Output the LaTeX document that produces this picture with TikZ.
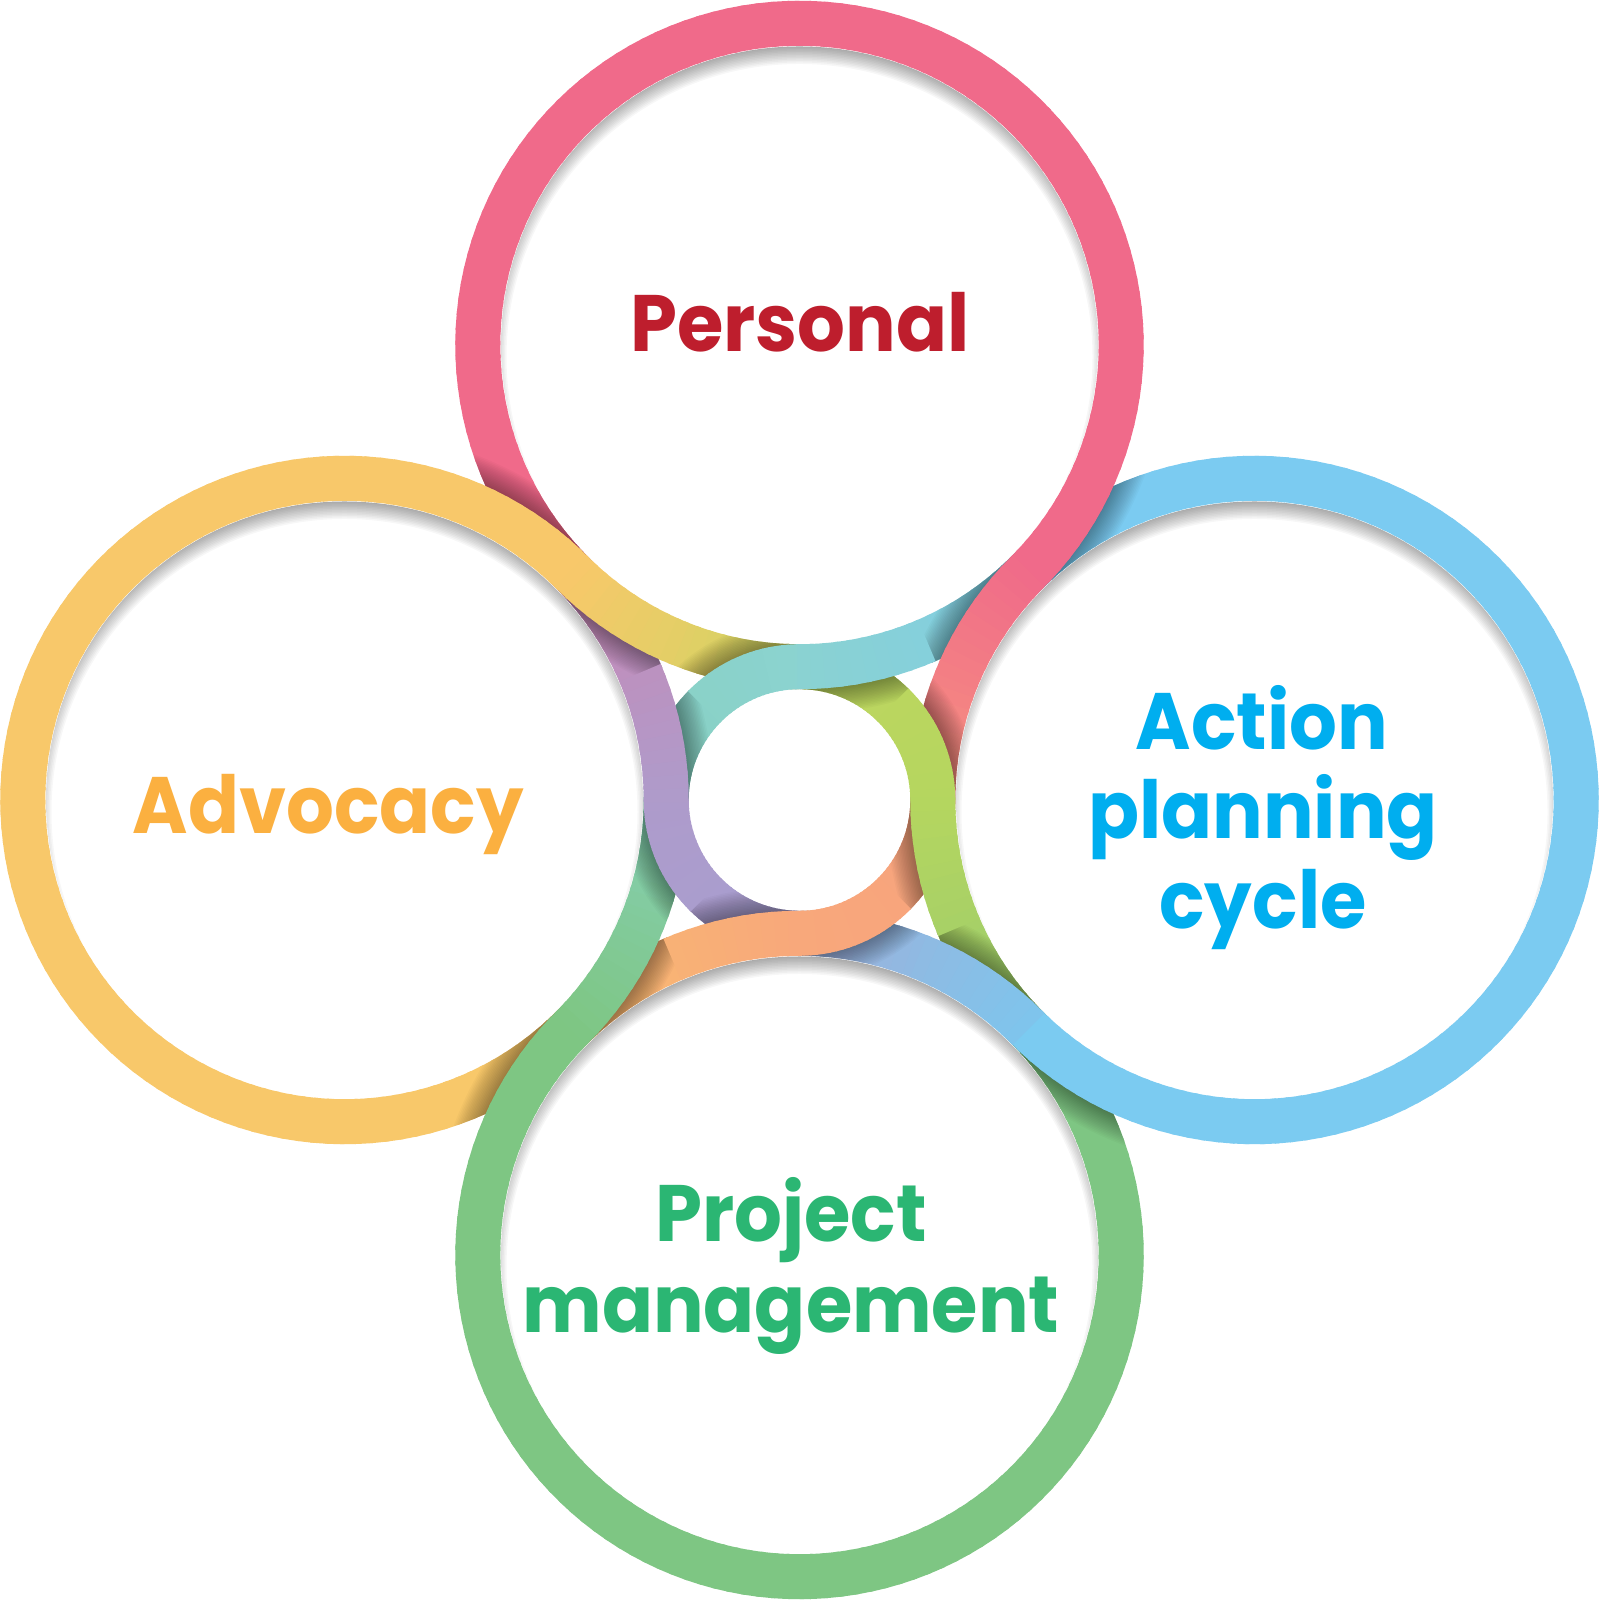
\documentclass[tikz,border=0pt]{standalone}
\usepackage{fontspec}
\newfontfamily\pop{Poppins}
\usetikzlibrary{calc}
% band colours
\definecolor{cYe}{HTML}{F8C86A}
\definecolor{cYG}{HTML}{CDD562}
\definecolor{cGa}{HTML}{C0D660}
\definecolor{cGb}{HTML}{B5D65F}
\definecolor{cGc}{HTML}{9ACB6E}
\definecolor{cGr}{HTML}{7EC683}
\definecolor{cTe}{HTML}{86CFB5}
\definecolor{cTf}{HTML}{88D0C0}
\definecolor{cCy}{HTML}{8BD3D0}
\definecolor{cCz}{HTML}{8AD2D2}
\definecolor{cCw}{HTML}{80CDE4}
\definecolor{cBl}{HTML}{7BCBF1}
\definecolor{cBm}{HTML}{7EC5EC}
\definecolor{cLa}{HTML}{A0AFDA}
\definecolor{cLb}{HTML}{A69FD0}
\definecolor{cPu}{HTML}{AE9BCB}
\definecolor{cMa}{HTML}{CA89B4}
\definecolor{cPk}{HTML}{F06A8A}
\definecolor{cPl}{HTML}{F06B89}
\definecolor{cSa}{HTML}{F6937F}
\definecolor{cSb}{HTML}{F7A27E}
\definecolor{cOr}{HTML}{F8A87B}
\definecolor{cOY}{HTML}{F9BC70}
% text colours
\definecolor{tRed}{HTML}{BE1E2D}
\definecolor{tOra}{HTML}{FBB040}
\definecolor{tBlu}{HTML}{00AEEF}
\definecolor{tGre}{HTML}{2BB673}

\tikzset{
  bandline/.style={line width=45pt, line cap=butt},
  lbl/.style={inner sep=0pt, anchor=base, font=\pop\bfseries\fontsize{80}{96}\selectfont},
}
\newcommand\nx[1]{\scalebox{0.94}[1]{#1}}

% arc piece with colour gradient: cx cy r a1 a2 colA colB p1 p2
\newcommand\bandseg[9]{%
  \pgfmathsetmacro\bsN{max(1,ceil(abs((#5)-(#4))/2.5))}%
  \pgfmathtruncatemacro\bsNi{\bsN}%
  \foreach \bsi in {1,...,\bsNi}{%
    \pgfmathsetmacro\bsA{(#4)+((#5)-(#4))*(\bsi-1)/\bsNi}%
    \pgfmathsetmacro\bsB{(#4)+((#5)-(#4))*min(\bsi+0.3,\bsNi)/\bsNi}%
    \pgfmathsetmacro\bsP{(#8)+((#9)-(#8))*(\bsi-0.5)/\bsNi}%
    \draw[bandline, draw={#7!\bsP!#6}] ($(#1,#2)+(\bsA:#3pt)$) arc[start angle=\bsA, end angle=\bsB, radius=#3pt];
  }}

% over-band path for a crossing
\newcommand\setover[7]{\def\ovdraw##1{\draw[##1] ($(#1)+(#3:#2pt)$) arc[start angle=#3,end angle=#4,radius=#2pt] arc[start angle=#6,end angle=#7,radius=#5pt];}}
% shadow of the over band on one under half
\newcommand\shadowon[4]{%
  \begin{scope}
    \pgfmathsetmacro\sro{#2+22.5}\pgfmathsetmacro\sri{#2-22.5}%
    \clip ($(#1)+(#3:\sro pt)$) arc[start angle=#3,end angle=#4,radius=\sro pt] -- ($(#1)+(#4:\sri pt)$) arc[start angle=#4,end angle=#3,radius=\sri pt] -- cycle;
    \foreach \sw in {47,50,...,95}{\ovdraw{line width=\sw pt, draw=black, draw opacity=0.025}}
  \end{scope}}

\def\arclist{%
  344.5/800/321.7/-45/-315/cYe/cYe/1,
  799.5/1255/321.7/225/270/cYe/cYG/0,
  799.5/800/133.3/90/0/cGa/cGb/1,
  1254.5/800/321.7/180/225/cGb/cGc/0,
  799.5/345/321.7/45/-225/cGr/cGr/1,
  344.5/800/321.7/-45/0/cGr/cTe/0,
  799.5/800/133.3/180/90/cTf/cCy/1,
  799.5/1255/321.7/270/315/cCz/cCw/0,
  1254.5/800/321.7/135/-135/cBl/cBl/1,
  799.5/345/321.7/45/90/cBm/cLa/0,
  799.5/800/133.3/270/180/cLb/cPu/1,
  344.5/800/321.7/0/45/cPu/cMa/0,
  799.5/1255/321.7/225/-45/cPk/cPk/1,
  1254.5/800/321.7/135/180/cPl/cSa/0,
  799.5/800/133.3/0/-90/cSb/cOr/1,
  799.5/345/321.7/90/135/cOr/cOY/0}

\begin{document}
\begin{tikzpicture}[x=1pt,y=1pt]
\fill[white] (0,0) rectangle (1599,1600);
\useasboundingbox (0,0) rectangle (1599,1600);
\coordinate (C) at (799.5,800);
\coordinate (T) at (799.5,1255);
\coordinate (B) at (799.5,345);
\coordinate (L) at (344.5,800);
\coordinate (R) at (1254.5,800);

% inner shadows of the big rings
\foreach \cc in {T,L,R,B}{
  \begin{scope}
    \clip (\cc) circle[radius=298.5pt];
    \foreach \rh in {293,294.5,...,311}{
      \fill[black, fill opacity=0.03, even odd rule] (\cc) circle[radius=360pt] ($(\cc)+(0,-12)$) circle[radius=\rh pt];
    }
  \end{scope}
}

% pass 1: under halves
\foreach \cx/\cy/\rr/\as/\ae/\ca/\cb/\od in \arclist {
  \pgfmathsetmacro\am{((\as)+(\ae))/2}
  \ifnum\od=1 \bandseg{\cx}{\cy}{\rr}{\as}{\am}{\ca}{\cb}{0}{50}\else\bandseg{\cx}{\cy}{\rr}{\am}{\ae}{\ca}{\cb}{50}{100}\fi
}

% crossing shadows
% TL
\setover{L}{321.7}{-265}{-315}{321.7}{225}{247.5}
\shadowon{L}{321.7}{22.5}{45}\shadowon{T}{321.7}{225}{175}
% top centre
\setover{C}{133.3}{135}{90}{321.7}{270}{292.5}
\shadowon{T}{321.7}{247.5}{270}\shadowon{C}{133.3}{90}{45}
% right centre
\setover{C}{133.3}{45}{0}{321.7}{180}{202.5}
\shadowon{R}{321.7}{157.5}{180}\shadowon{C}{133.3}{0}{-45}
% BR
\setover{R}{321.7}{-85}{-135}{321.7}{45}{67.5}
\shadowon{R}{321.7}{202.5}{225}\shadowon{B}{321.7}{45}{-5}
% BL
\setover{B}{321.7}{-175}{-225}{321.7}{-45}{-22.5}
\shadowon{B}{321.7}{112.5}{135}\shadowon{L}{321.7}{-45}{-95}
% left centre
\setover{C}{133.3}{225}{180}{321.7}{0}{22.5}
\shadowon{L}{321.7}{-22.5}{0}\shadowon{C}{133.3}{180}{135}
% bottom centre
\setover{C}{133.3}{-45}{-90}{321.7}{90}{112.5}
\shadowon{B}{321.7}{67.5}{90}\shadowon{C}{133.3}{270}{225}
% TR
\setover{T}{321.7}{5}{-45}{321.7}{135}{157.5}
\shadowon{T}{321.7}{292.5}{315}\shadowon{R}{321.7}{135}{85}

% pass 2: over halves (slightly extended at both ends to hide seams)
\foreach \cx/\cy/\rr/\as/\ae/\ca/\cb/\od in \arclist {
  \pgfmathsetmacro\am{((\as)+(\ae))/2}
  \pgfmathsetmacro\sg{sign((\ae)-(\as))}
  \ifnum\od=1
    \pgfmathsetmacro\amx{\am-0.8*\sg}
    \pgfmathsetmacro\aex{(\ae)+0.4*\sg}
    \bandseg{\cx}{\cy}{\rr}{\amx}{\aex}{\ca}{\cb}{50}{100}
  \else
    \pgfmathsetmacro\amx{\am+0.8*\sg}
    \pgfmathsetmacro\asx{(\as)-0.4*\sg}
    \bandseg{\cx}{\cy}{\rr}{\asx}{\amx}{\ca}{\cb}{0}{50}
  \fi
}

% labels
\node[lbl, text=tRed] (personal) at (800,1248) {\nx{Personal}};
\node[lbl, text=tOra] (advocacy) at (328.5,766) {\nx{Advocacy}};
\node[lbl, text=tBlu] (apc1) at (1262,850) {\nx{Action}};
\node[lbl, text=tBlu] (apc2) at (1263,761) {\nx{planning}};
\node[lbl, text=tBlu] (apc3) at (1263,671) {\nx{cycle}};
\node[lbl, text=tGre] (pm1) at (791,358) {\nx{Project}};
\node[lbl, text=tGre] (pm2) at (791,267) {\nx{management}};
\end{tikzpicture}
\end{document}
